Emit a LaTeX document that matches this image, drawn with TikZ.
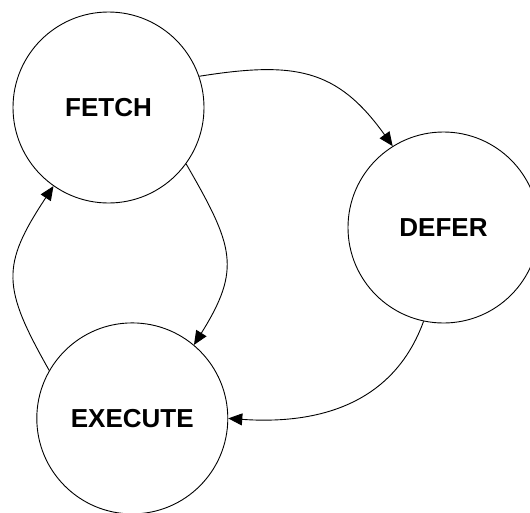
\documentclass[tikz,border=0pt]{standalone}
\usepackage{fontspec}
\setmainfont{Liberation Sans}
\usetikzlibrary{arrows.meta}
\begin{document}
\begin{tikzpicture}[x=1pt,y=1pt,
  state/.style={circle,draw=black,line width=0.9pt,minimum size=191pt,inner sep=0pt,
    font=\fontsize{26}{30}\selectfont\bfseries},
  trans/.style={draw=black,line width=0.9pt,-{Triangle[length=14pt,width=12pt]}}]
\clip (0,0) rectangle (530,-512);
\fill[white] (0,0) rectangle (530,-512);
\node[state] (fetch) at (108.5,-107.5) {FETCH};
\node[state] (defer) at (443.5,-227.5) {DEFER};
\node[state] (execute) at (132.3,-418.4) {EXECUTE};
\draw[trans] (fetch.19) to[out=9,in=125.5,distance=96pt] (defer.122);
\draw[trans] (fetch.-36.7) to[out=-60,in=58,out distance=95pt,in distance=90pt] (execute.50);
\draw[trans] (execute.150) to[out=119.5,in=-123.5,distance=95.6pt] (fetch.-125.3);
\draw[trans] (defer.-102) to[out=-110,in=-4,distance=89pt] (execute.-0.5);
\end{tikzpicture}
\end{document}
